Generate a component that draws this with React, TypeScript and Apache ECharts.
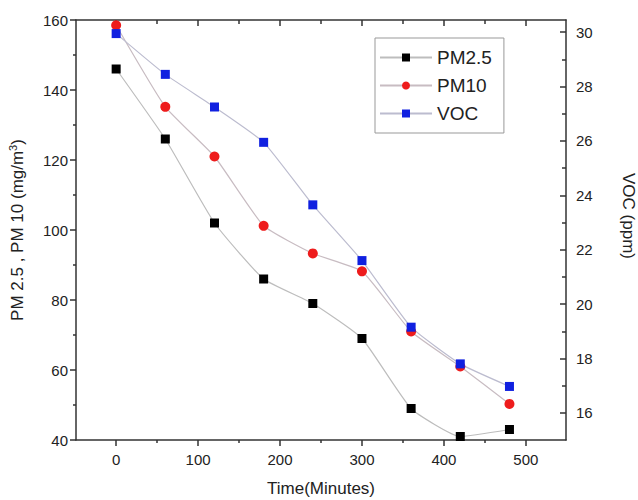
import React, { useEffect, useRef } from "react";
import * as echarts from "echarts";

const times = [0, 60, 120, 180, 240, 300, 360, 420, 480];
const pm25 = [146, 126, 102, 86, 79, 69, 49, 41, 43];
const pm10 = [158.5, 135.2, 121, 101.2, 93.3, 88.2, 71, 61, 50.3];
const voc = [29.95, 28.45, 27.25, 25.95, 23.65, 21.6, 19.15, 17.8, 16.97];
const xMajor = [0, 100, 200, 300, 400, 500];
const xMinor = [50, 150, 250, 350, 450];
const vocMajor = [16, 18, 20, 22, 24, 26, 28, 30];
const vocMinor = [17, 19, 21, 23, 25, 27, 29];

const FONT = "Liberation Sans";
const AX = "#333";

export default function App() {
  const ref = useRef<HTMLDivElement>(null);
  useEffect(() => {
    document.body.style.margin = "0";
    const chart = echarts.init(ref.current!, null, { renderer: "svg" });
    const pair = (a: number[], b: number[]) => a.map((v, i) => [v, b[i]]);
    const xBase = { type: "value", min: -49, max: 549, splitLine: { show: false } };
    chart.setOption({
      animation: false,
      backgroundColor: "#fff",
      textStyle: { fontFamily: FONT },
      grid: { left: 76, right: 72, top: 20, bottom: 60, outerBoundsMode: "none", containLabel: false },
      legend: {
        orient: "vertical",
        left: 375,
        top: 38,
        itemWidth: 52,
        itemHeight: 10,
        itemGap: 9,
        padding: [10, 12, 10, 4],
        borderColor: "#999",
        borderWidth: 1,
        textStyle: { fontFamily: FONT, fontSize: 19, color: "#222" },
        data: ["PM2.5", "PM10", "VOC"],
      },
      xAxis: [
        {
          ...xBase,
          position: "bottom",
          name: "Time(Minutes)",
          nameLocation: "middle",
          nameGap: 40,
          nameTextStyle: { fontFamily: FONT, fontSize: 17, color: "#222" },
          axisLine: { show: true, onZero: false, lineStyle: { color: AX, width: 1.5 } },
          axisTick: { show: true, inside: false, length: 6, customValues: xMajor, lineStyle: { color: AX, width: 1.5 } },
          axisLabel: { customValues: xMajor, fontFamily: FONT, fontSize: 15, color: "#222", margin: 12 },
        },
        {
          ...xBase,
          position: "bottom",
          axisLine: { show: false, onZero: false },
          axisTick: { show: true, inside: false, length: 3, customValues: xMinor, lineStyle: { color: AX, width: 1.5 } },
          axisLabel: { show: false },
        },
        {
          ...xBase,
          position: "top",
          axisLine: { show: true, onZero: false, lineStyle: { color: AX, width: 1.5 } },
          axisTick: { show: true, inside: true, length: 6, customValues: xMajor, lineStyle: { color: AX, width: 1.5 } },
          axisLabel: { show: false },
        },
        {
          ...xBase,
          position: "top",
          axisLine: { show: false, onZero: false },
          axisTick: { show: true, inside: true, length: 4, customValues: xMinor, lineStyle: { color: AX, width: 1.5 } },
          axisLabel: { show: false },
        },
      ],
      yAxis: [
        {
          type: "value",
          position: "left",
          min: 40,
          max: 160,
          interval: 20,
          name: "PM 2.5 , PM 10 (mg/m{sup|3})",
          nameLocation: "middle",
          nameGap: 48,
          nameTextStyle: {
            fontFamily: FONT,
            fontSize: 17,
            color: "#222",
            rich: { sup: { fontFamily: FONT, fontSize: 11, color: "#222", verticalAlign: "top", padding: [0, 0, 10, 0] } },
          },
          splitLine: { show: false },
          axisLine: { show: true, onZero: false, lineStyle: { color: AX, width: 1.5 } },
          axisTick: { show: true, inside: false, length: 6, lineStyle: { color: AX, width: 1.5 } },
          minorTick: { show: true, splitNumber: 2, length: 3, lineStyle: { color: AX, width: 1.5 } },
          axisLabel: { fontFamily: FONT, fontSize: 15, color: "#222", margin: 8 },
        },
        {
          type: "value",
          position: "right",
          min: 15,
          max: 30.45,
          name: "VOC (ppm)",
          nameLocation: "middle",
          nameRotate: -90,
          nameGap: 54,
          nameTextStyle: { fontFamily: FONT, fontSize: 17, color: "#222", padding: [0, 28, 0, 0] },
          splitLine: { show: false },
          axisLine: { show: true, onZero: false, lineStyle: { color: AX, width: 1.5 } },
          axisTick: { show: true, inside: true, length: 6, customValues: vocMajor, lineStyle: { color: AX, width: 1.5 } },
          axisLabel: { customValues: vocMajor, fontFamily: FONT, fontSize: 15, color: "#222", margin: 10 },
        },
        {
          type: "value",
          position: "right",
          min: 15,
          max: 30.45,
          splitLine: { show: false },
          axisLine: { show: false, onZero: false },
          axisTick: { show: true, inside: true, length: 4, customValues: vocMinor, lineStyle: { color: AX, width: 1.5 } },
          axisLabel: { show: false },
        },
      ],
      series: [
        {
          name: "PM2.5",
          type: "line",
          xAxisIndex: 0,
          yAxisIndex: 0,
          data: pair(times, pm25),
          smooth: 0.15,
          symbol: "rect",
          symbolSize: 9,
          itemStyle: { color: "#000" },
          lineStyle: { color: "#bdbdbd", width: 1.2 },
        },
        {
          name: "PM10",
          type: "line",
          xAxisIndex: 0,
          yAxisIndex: 0,
          data: pair(times, pm10),
          smooth: 0.15,
          symbol: "circle",
          symbolSize: 10,
          itemStyle: { color: "#ee1c1c" },
          lineStyle: { color: "#c8bcc2", width: 1.2 },
        },
        {
          name: "VOC",
          type: "line",
          xAxisIndex: 0,
          yAxisIndex: 1,
          data: pair(times, voc),
          smooth: 0.15,
          symbol: "rect",
          symbolSize: 9,
          itemStyle: { color: "#1020e0" },
          lineStyle: { color: "#bcbccf", width: 1.2 },
        },
      ],
    });
    return () => chart.dispose();
  }, []);
  return <div ref={ref} style={{ width: 638, height: 500 }} />;
}
